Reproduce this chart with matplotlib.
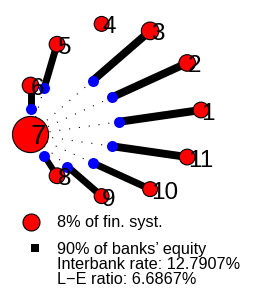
import numpy as np
import matplotlib
matplotlib.use('Agg')
import matplotlib.pyplot as plt
from matplotlib.transforms import offset_copy, IdentityTransform

plt.rcParams['font.family'] = ['Liberation Sans', 'DejaVu Sans']

# banks, their share of the financial system (%)
nodes = [1, 2, 3, 4, 5, 6, 7, 8, 9, 10, 11]
share = [7.4, 7.8, 8.3, 7.0, 7.4, 7.8, 17.0, 7.4, 7.0, 7.0, 7.4]

# interbank exposures towards bank 7 (% of lender's equity)
sources = [1, 2, 3, 5, 6, 8, 9, 10, 11]
target = 7
exposure = [88, 86, 86, 76, 76, 66, 76, 76, 86]

legend_share = 8
legend_exposure = 90
interbank_rate = 12.7907
le_ratio = 6.6867

W, H = 259, 295
PX = 87.0                 # pixels per layout unit
cx, cy = 114, 110         # circle centre in pixels from top-left
r_per_pct = 8.5 / 8       # node radius px per % share
w_per_pct = 8.2 / 90      # edge width px per % equity
pt = 0.72                 # points per pixel at 100 dpi

# circular layout
theta = 2 * np.pi * (np.array(nodes) - 1) / len(nodes)
pos = {n: (np.cos(t), np.sin(t)) for n, t in zip(nodes, theta)}

fig = plt.figure(figsize=(W / 100, H / 100), dpi=100)
ax = fig.add_axes([0, 0, 1, 1])
ax.set_xlim(-cx / PX, (W - cx) / PX)
ax.set_ylim(-(H - cy) / PX, cy / PX)
ax.axis('off')

frac = 0.48
tx, ty = pos[target]
for s, e in zip(sources, exposure):
    sx, sy = pos[s]
    mx, my = sx + frac * (tx - sx), sy + frac * (ty - sy)
    ax.plot([sx, mx], [sy, my], color='black', lw=e * w_per_pct * pt,
            solid_capstyle='butt', zorder=1)
    ax.plot([mx, tx], [my, ty], color='black', lw=1.1 * pt,
            linestyle=(0, (1, 8)), zorder=1)
    ax.scatter([mx], [my], s=(11 * pt) ** 2, color='#0000ff', lw=0, zorder=2)

xs = [pos[n][0] for n in nodes]
ys = [pos[n][1] for n in nodes]
sizes = [(2 * v * r_per_pct * pt) ** 2 for v in share]
ax.scatter(xs, ys, s=sizes, color='red', edgecolor='black', lw=0.8, zorder=3)

lab_size = {7: 20}
tr = offset_copy(ax.transData, fig=fig, x=0.5, y=-9.5, units='dots')
for n, x, y in zip(nodes, xs, ys):
    ax.text(x, y, str(n), transform=tr, ha='left', va='baseline',
            fontsize=lab_size.get(n, 17.5), zorder=4)

# legend (pixel positions)
idt = IdentityTransform()
ax.scatter([31], [H - 222], s=(2 * legend_share * r_per_pct * pt) ** 2,
           color='red', edgecolor='black', lw=0.8, transform=idt, clip_on=False)
ax.scatter([35], [H - 248], s=(legend_exposure * w_per_pct * pt) ** 2,
           marker='s', color='black', lw=0, transform=idt, clip_on=False)
fs = 11.7
fig.text(57, H - 227, f"{legend_share}% of fin. syst.", transform=idt,
         fontsize=fs, va='baseline')
fig.text(57, H - 254, f"{legend_exposure}% of banks\u2019 equity", transform=idt,
         fontsize=fs, va='baseline')
fig.text(57, H - 269, f"Interbank rate: {interbank_rate}%", transform=idt,
         fontsize=fs, va='baseline')
fig.text(57, H - 284, f"L\u2212E ratio: {le_ratio}%", transform=idt,
         fontsize=fs, va='baseline')

fig.savefig('out.png', dpi=100)
